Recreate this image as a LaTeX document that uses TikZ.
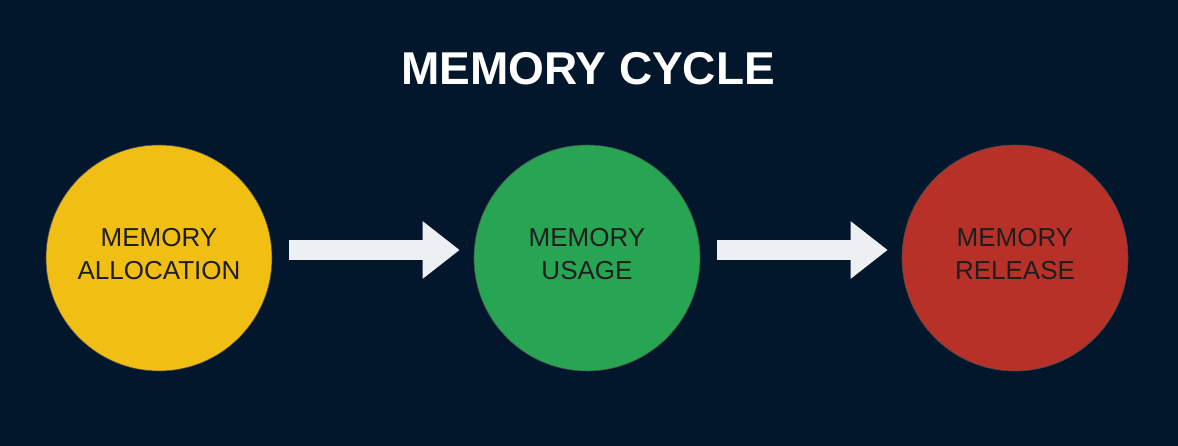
\documentclass[tikz,border=0pt]{standalone}
\usepackage{fontspec}
\setmainfont{Liberation Sans}
\usetikzlibrary{arrows.meta}
\definecolor{navy}{HTML}{03172C}
\definecolor{allocyellow}{HTML}{F1BE14}
\definecolor{usagegreen}{HTML}{28A553}
\definecolor{releasered}{HTML}{B73128}
\definecolor{arrowgrey}{HTML}{EDF0F3}
\definecolor{textdark}{HTML}{1E1E1E}
\tikzset{
	phase/.style={circle, minimum size=226pt, inner sep=0pt, draw=black!70, line width=0.6pt, text=textdark, align=center, font=\fontsize{26}{33}\selectfont},
	flow/.style={line width=20pt, arrowgrey, -{Triangle[length=37pt,width=55pt]}, shorten <=17pt, shorten >=14pt}
}

\begin{document}
\begin{tikzpicture}[x=1pt,y=-1pt]
		\fill[navy] (0,0) rectangle (1178,446);
		\useasboundingbox (0,0) rectangle (1178,446);
		\node[text=white, font=\fontsize{46}{46}\selectfont\bfseries, anchor=base] (title) at (588,85) {MEMORY CYCLE};
		\node[phase, fill=allocyellow] (alloc) at (159,258) {MEMORY\\ALLOCATION\\[-25pt]};
		\node[phase, fill=usagegreen] (usage) at (587,258) {MEMORY\\USAGE\\[-25pt]};
		\node[phase, fill=releasered] (release) at (1015,258) {MEMORY\\RELEASE\\[-25pt]};
		\draw[flow] ([yshift=8pt]alloc.east) -- ([yshift=8pt]usage.west);
		\draw[flow] ([yshift=8pt]usage.east) -- ([yshift=8pt]release.west);
		\end{tikzpicture}
\end{document}
